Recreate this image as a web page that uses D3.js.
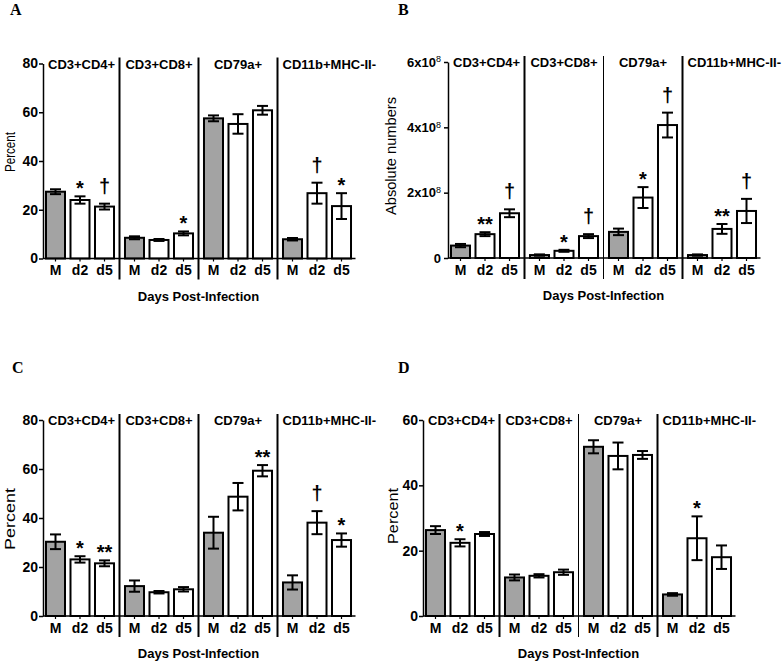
<!DOCTYPE html>
<html>
<head>
<meta charset="utf-8">
<script src="https://cdn.jsdelivr.net/npm/d3@7"></script>
<style>
  body { margin: 0; background: #fff; }
  svg text { font-family: "Liberation Sans", Arial, sans-serif; fill: #000; }
</style>
</head>
<body>
<svg id="chart" width="784" height="663"></svg>
<script>
// categories
const groups = ["CD3+CD4+", "CD3+CD8+", "CD79a+", "CD11b+MHC-II-"];
const days = ["M", "d2", "d5"];

// panel A - percent (4 groups x M, d2, d5)
const aMean = [27.4, 24.0, 21.3,  8.5, 7.6, 10.3,  57.5, 55.2, 60.8,  7.9, 26.8, 21.5];
const aErr  = [ 1.0,  1.5,  1.2,  0.6, 0.4,  0.8,   1.2,  4.0,  1.8,  0.5,  4.3,  5.3];
const aSig  = ["", "*", "†",  "", "", "*",  "", "", "",  "", "†", "*"];

// panel B - absolute numbers
const bMean = [0.38e8, 0.73e8, 1.37e8,  0.09e8, 0.22e8, 0.67e8,  0.80e8, 1.85e8, 4.07e8,  0.09e8, 0.89e8, 1.44e8];
const bErr  = [0.05e8, 0.06e8, 0.12e8,  0.02e8, 0.03e8, 0.06e8,  0.10e8, 0.32e8, 0.38e8,  0.02e8, 0.15e8, 0.37e8];
const bSig  = ["", "**", "†",  "", "*", "†",  "", "*", "†",  "", "**", "†"];

// panel C - percent
const cMean = [30.3, 23.1, 21.5,  12.2, 9.7, 10.9,  34.0, 48.7, 59.3,  13.7, 38.1, 31.0];
const cErr  = [ 3.0,  1.3,  1.2,   2.3, 0.5,  0.9,   6.5,  5.6,  2.3,   2.9,  4.7,  2.7];
const cSig  = ["", "*", "**",  "", "", "",  "", "", "**",  "", "†", "*"];

// panel D - percent
const dMean = [26.3, 22.4, 25.1,  11.8, 12.3, 13.4,  51.8, 49.0, 49.3,  6.6, 23.8, 18.0];
const dErr  = [ 1.2,  1.1,  0.6,   0.9,  0.5,  0.8,   2.0,  4.1,  1.2,  0.4,  6.7,  3.6];
const dSig  = ["", "*", "",  "", "", "",  "", "", "",  "", "*", ""];

// tick values
const percentTicks80 = [0, 20, 40, 60, 80];
const absTicks = [0, 2e8, 4e8, 6e8];
const percentTicks60 = [0, 20, 40, 60];

const panels = [
  { letter: "A", mean: aMean, err: aErr, sig: aSig, max: 80, ticks: percentTicks80, ylabel: "Percent",
    ax: 43, y0: 258.5, ytop: 63.5, lx: 10, ly: 15, yl: [9, 152, 40], sepW: 2 },
  { letter: "B", mean: bMean, err: bErr, sig: bSig, max: 6e8, ticks: absTicks, ylabel: "Absolute numbers", sci: true,
    ax: 448, y0: 258, ytop: 62, lx: 398, ly: 15, yl: [390, 156, 118], sepW: [2, 1, 2] },
  { letter: "C", mean: cMean, err: cErr, sig: cSig, max: 80, ticks: percentTicks80, ylabel: "Percent",
    ax: 43, y0: 616, ytop: 420, lx: 12, ly: 373, yl: [9, 519, 62], sepW: 2 },
  { letter: "D", mean: dMean, err: dErr, sig: dSig, max: 60, ticks: percentTicks60, ylabel: "Percent",
    ax: 423, y0: 616, ytop: 420, lx: 398, ly: 373, yl: [392, 516, 56], sepW: [2, 1, 2] }
];

const svg = d3.select("#chart");
const sigOffset = { "*": 1, "**": 1, "†": 11 };

function drawPanel(p) {
  const g = svg.append("g");
  const y = d3.scaleLinear().domain([0, p.max]).range([p.y0, p.ytop]);
  const outer = d3.scaleBand().domain(groups).range([p.ax - 2.5, p.ax + 313.5]);
  const inner = d3.scaleBand().domain(days).range([0, outer.bandwidth()])
    .paddingInner(0.224).paddingOuter(0.224);

  const rows = p.mean.map((m, i) => ({
    group: groups[Math.floor(i / 3)], day: days[i % 3], mean: m, err: p.err[i], sig: p.sig[i]
  }));
  const cx = d => outer(d.group) + inner(d.day) + inner.bandwidth() / 2;

  // panel letter
  g.append("text").attr("x", p.lx).attr("y", p.ly)
    .style("font-family", '"Liberation Serif", "Times New Roman", serif')
    .style("font-weight", "bold").style("font-size", "16px").text(p.letter);

  // group separators
  groups.slice(1).forEach((gr, i) => {
    g.append("line")
      .attr("x1", outer(gr)).attr("x2", outer(gr))
      .attr("y1", p.ytop - 6).attr("y2", p.y0 + 21)
      .attr("stroke", "#000")
      .attr("stroke-width", Array.isArray(p.sepW) ? p.sepW[i] : p.sepW);
  });

  // bars
  g.append("g").selectAll("rect").data(rows).join("rect")
    .attr("x", d => outer(d.group) + inner(d.day))
    .attr("width", inner.bandwidth())
    .attr("y", d => y(d.mean))
    .attr("height", d => p.y0 - y(d.mean))
    .attr("fill", d => d.day === "M" ? "#a3a3a3" : "#fff")
    .attr("stroke", "#000").attr("stroke-width", 2);

  // error bars
  const eb = g.append("g").attr("stroke", "#000").attr("stroke-width", 2);
  eb.selectAll("line.v").data(rows).join("line").attr("class", "v")
    .attr("x1", cx).attr("x2", cx)
    .attr("y1", d => y(d.mean - d.err)).attr("y2", d => y(d.mean + d.err));
  eb.selectAll("line.t").data(rows).join("line").attr("class", "t")
    .attr("x1", d => cx(d) - 5.5).attr("x2", d => cx(d) + 5.5)
    .attr("y1", d => y(d.mean + d.err)).attr("y2", d => y(d.mean + d.err));
  eb.selectAll("line.b").data(rows).join("line").attr("class", "b")
    .attr("x1", d => cx(d) - 5.5).attr("x2", d => cx(d) + 5.5)
    .attr("y1", d => y(d.mean - d.err)).attr("y2", d => y(d.mean - d.err));

  // significance markers
  g.append("g").selectAll("text").data(rows.filter(d => d.sig)).join("text")
    .attr("x", cx)
    .attr("y", d => y(d.mean + d.err) - sigOffset[d.sig])
    .attr("text-anchor", "middle")
    .style("font-size", "20px").style("font-weight", "bold")
    .text(d => d.sig);

  // y axis
  const yAxis = d3.axisLeft(y).tickValues(p.ticks).tickSize(4).tickSizeOuter(0).tickPadding(p.sci ? 3 : 1)
    .tickFormat(p.sci ? (v => v === 0 ? "0" : "") : d3.format("d"));
  const ya = g.append("g").attr("transform", `translate(${p.ax},0)`).call(yAxis);
  ya.select(".domain").attr("stroke-width", 1.5);
  ya.selectAll(".tick line").attr("stroke-width", 1.5);
  ya.selectAll(".tick text").style("font-size", p.sci ? "13px" : "14px").style("font-weight", "bold")
    .style("font-family", '"Liberation Sans", Arial, sans-serif');
  if (p.sci) {
    ya.selectAll(".tick text").filter(v => v !== 0).each(function (v) {
      const t = d3.select(this);
      t.append("tspan").text(`${v / 1e8}x10`);
      t.append("tspan").attr("dy", "-0.5em").style("font-size", "9px").style("font-weight", "normal").text("8");
    });
  }

  // x axis line
  g.append("line").attr("x1", p.ax).attr("x2", outer.range()[1] - 1)
    .attr("y1", p.y0).attr("y2", p.y0).attr("stroke", "#000").attr("stroke-width", 1.5);

  // x ticks per group
  groups.forEach(gr => {
    const xa = g.append("g").attr("transform", `translate(${outer(gr)},${p.y0})`)
      .call(d3.axisBottom(inner).tickSize(3).tickSizeOuter(0).tickPadding(4));
    xa.select(".domain").remove();
    xa.selectAll(".tick line").attr("stroke-width", 1.2);
    xa.selectAll(".tick text").style("font-size", "14px").style("font-weight", "bold")
      .style("font-family", '"Liberation Sans", Arial, sans-serif');
  });

  // group labels
  groups.forEach((gr, i) => {
    const left = i === 0 ? p.ax : outer(gr);
    const t = g.append("text").attr("y", p.ytop + 5)
      .style("font-size", "13px").style("font-weight", "bold").text(gr);
    const w = t.node().getComputedTextLength();
    const center = outer(gr) + outer.bandwidth() / 2;
    t.attr("x", Math.max(center - w / 2, left + 5));
  });

  // x title
  g.append("text")
    .attr("x", (outer.range()[0] + outer.range()[1]) / 2).attr("y", p.y0 + 42)
    .attr("text-anchor", "middle")
    .style("font-size", "13px").style("font-weight", "bold")
    .text("Days Post-Infection");

  // y title
  g.append("text")
    .attr("transform", `translate(${p.yl[0]},${p.yl[1]}) rotate(-90)`)
    .attr("text-anchor", "middle").attr("dominant-baseline", "central")
    .attr("textLength", p.yl[2]).attr("lengthAdjust", "spacingAndGlyphs")
    .style("font-size", "15px")
    .text(p.ylabel);
}

panels.forEach(drawPanel);
</script>
</body>
</html>
